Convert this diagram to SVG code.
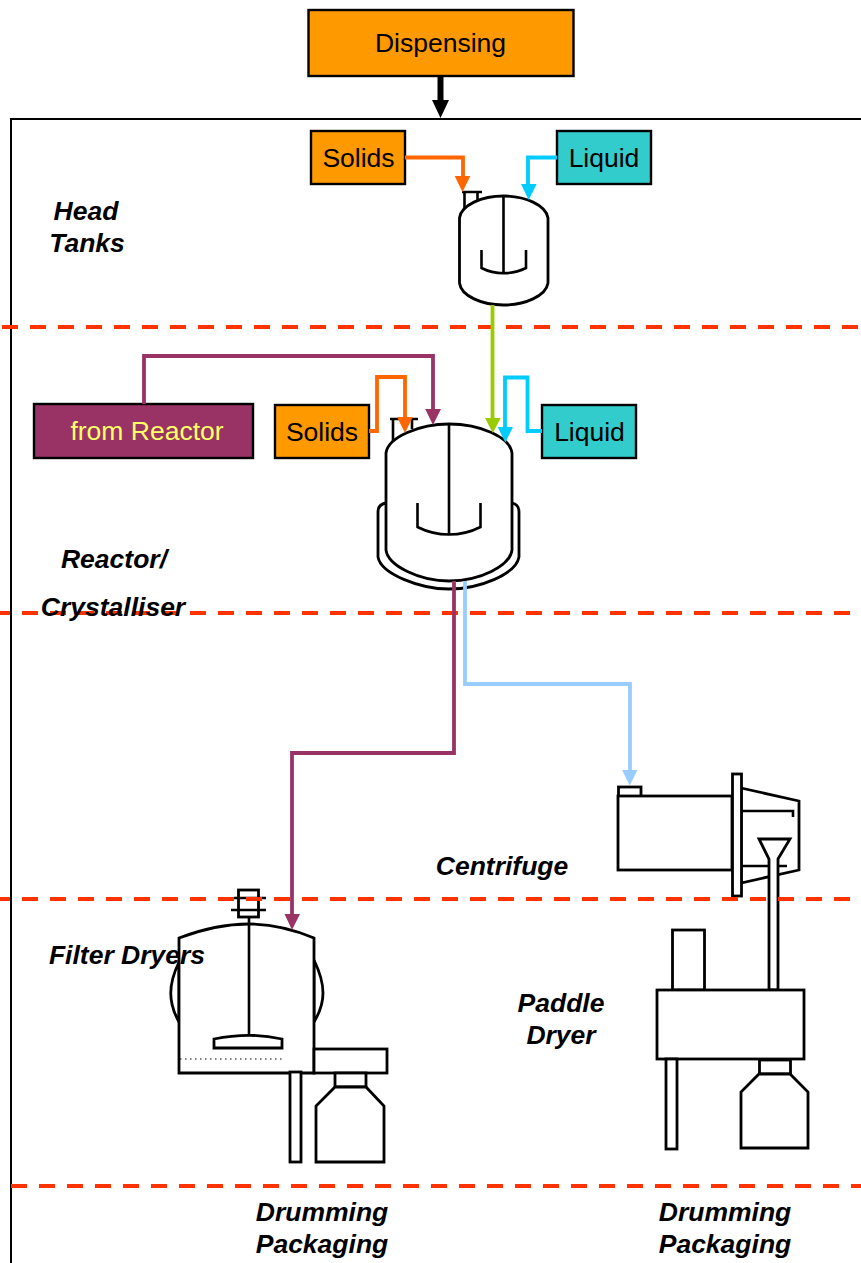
<svg xmlns="http://www.w3.org/2000/svg" width="861" height="1263" viewBox="0 0 861 1263">
<style>
text{font-family:"Liberation Sans",Arial,sans-serif;font-size:26.500px;fill:#000}
.c{text-anchor:middle}
.l{font-weight:bold;font-style:italic}
.box{stroke:#000;stroke-width:2.400}
.eq{fill:#fff;stroke:#000;stroke-width:2.800;stroke-linejoin:miter}
.ln{fill:none;stroke:#000;stroke-width:2.600}
.dash{stroke:#ff3300;stroke-width:4;stroke-dasharray:16 12;fill:none}
.conn{fill:none;stroke-width:3.800}
</style>
<rect width="861" height="1263" fill="#fff"/>
<g id="frame"><path d="M861 119H11V1263" fill="none" stroke="#000" stroke-width="2"/></g>
<g id="dispensing"><rect class="box" x="308.500" y="10" width="265" height="66" fill="#ff9900"/><text class="c" x="440.500" y="52">Dispensing</text></g>
<g id="solids-1"><rect class="box" x="311" y="131" width="94" height="53" fill="#ff9900"/><text class="c" x="358.500" y="167">Solids</text></g>
<g id="liquid-1"><rect class="box" x="557" y="131" width="94" height="53" fill="#33cccc"/><text class="c" x="604" y="167">Liquid</text></g>
<g id="head-tank">
<path class="ln" d="M462 192H482M464.500 193V210M477.500 193V200"/>
<path class="eq" d="M459.500 218C461 205 482 196 503.500 196C525 196 546 205 548 218V283C546 296 525 305 503.500 305C482 305 461 296 459.500 283Z"/>
<path class="ln" d="M503.500 196V273M481.500 250V268C495 275 512 275 526 268V250"/>
</g>
<g id="from-reactor"><rect class="box" x="34" y="404" width="219" height="54" fill="#993366"/><text class="c" x="147" y="440" style="fill:#ffff66">from Reactor</text></g>
<g id="solids-2"><rect class="box" x="275" y="405" width="94" height="53" fill="#ff9900"/><text class="c" x="322" y="441">Solids</text></g>
<g id="liquid-2"><rect class="box" x="542" y="405" width="94" height="53" fill="#33cccc"/><text class="c" x="589.500" y="441">Liquid</text></g>
<g id="reactor">
<path class="ln" d="M390 419H418M393 420V443M412 420V429"/>
<path class="eq" d="M386 503C380 504 378 507 378 512V557C381 574 420 589 449 589C480 589 516 574 519 557V512C519 507 517 504 512 503Z"/>
<path class="eq" d="M386 453C388 437 420 424 449 424C480 424 510 437 512 453V550C510 566 480 581 449 581C420 581 388 566 386 550Z"/>
<path class="ln" d="M449 424V534M417.500 503V527C437 537 461 537 480.500 527V503"/>
</g>
<g id="centrifuge">
<rect class="eq" x="618.500" y="787" width="22.500" height="9.500"/>
<rect class="eq" x="618" y="796" width="114" height="74"/>
<path class="eq" d="M741 788L799 801V870L741 883Z"/>
<path class="ln" d="M741 811H793V817M741 866H787"/>
<rect class="eq" x="732.500" y="774" width="9" height="122"/>
</g>
<g id="paddle-dryer">
<path class="eq" d="M759 839H790L778 859V990H769V859Z"/>
<rect class="eq" x="672.500" y="930" width="32" height="60"/>
<rect class="eq" x="657" y="990" width="147" height="69"/>
<rect class="eq" x="666" y="1059" width="11" height="90"/>
<rect class="eq" x="759.500" y="1060" width="31" height="14"/>
<path class="eq" d="M759 1074H790L808 1092V1148H741V1092Z"/>
</g>
<g id="filter-dryer">
<path class="eq" d="M179 962C168 985 168 1002 179 1022ZM314 960C326 985 326 1002 314 1022Z"/>
<path class="eq" d="M179 938C200 930 225 924 249 924C272 924 295 930 314 938V1073H179Z"/>
<rect class="eq" x="238.500" y="890" width="20" height="27"/>
<path class="ln" d="M234 898H266M231 910H266M249 917V1036"/>
<path class="eq" d="M214 1039C238 1034 260 1034 282 1039V1048H214Z"/>
<path d="M180 1059H284" fill="none" stroke="#000" stroke-width="1" stroke-dasharray="1.500 3.500"/>
<rect class="eq" x="314" y="1049" width="73" height="24"/>
<rect class="eq" x="290" y="1072" width="11" height="90"/>
<rect class="eq" x="335" y="1073" width="31" height="14"/>
<path class="eq" d="M335 1087H366L384 1106V1162H316V1106Z"/>
</g>
<g id="dividers">
<path class="dash" d="M2 327H861"/>
<path class="dash" d="M-6 613H861"/>
<path class="dash" d="M-6 899H861"/>
<path class="dash" d="M11 1186H861"/>
</g>
<g id="connectors">
<path class="conn" style="stroke-width:6" stroke="#000" d="M440.500 76V102"/><path d="M432 100H449L440.500 118Z" fill="#000"/>
<path class="conn" stroke="#ff6600" d="M405 157.500H463V177"/><path d="M454.700 176H470.300L462.500 192Z" fill="#ff6600"/>
<path class="conn" stroke="#00ccff" d="M557 157.500H528V185"/><path d="M521 184H536.700L528.700 200Z" fill="#00ccff"/>
<path class="conn" stroke="#993366" d="M144 404V356H433V410"/><path d="M425.200 409H441L433 425Z" fill="#993366"/>
<path class="conn" stroke="#ff6600" d="M369 431H377V377H405V418"/><path d="M397 417H412.800L405 433Z" fill="#ff6600"/>
<path class="conn" stroke="#99cc00" d="M492.500 305V419"/><path d="M485 418H500.700L492.800 433Z" fill="#99cc00"/>
<path class="conn" stroke="#00ccff" d="M542 431H527.500V377.500H505V428"/><path d="M497.700 427H513L505.300 442.500Z" fill="#00ccff"/>
<path class="conn" stroke="#993366" d="M454 581V753H292V915"/><path d="M284.500 914H300L292 930Z" fill="#993366"/>
<path class="conn" stroke="#99ccff" d="M465 581V684H630V771"/><path d="M622 770H637.500L629.700 785.500Z" fill="#99ccff"/>
</g>
<g id="labels">
<text class="l c" x="86" y="220">Head</text>
<text class="l c" x="87" y="252">Tanks</text>
<text class="l c" x="114" y="568">Reactor/</text>
<text class="l c" x="113" y="616">Crystalliser</text>
<text class="l c" x="502" y="875">Centrifuge</text>
<text class="l c" x="127" y="964">Filter Dryers</text>
<text class="l c" x="561" y="1012">Paddle</text>
<text class="l c" x="561" y="1044">Dryer</text>
<text class="l c" x="322" y="1221">Drumming</text>
<text class="l c" x="322" y="1253">Packaging</text>
<text class="l c" x="725" y="1221">Drumming</text>
<text class="l c" x="725" y="1253">Packaging</text>
</g>
</svg>
